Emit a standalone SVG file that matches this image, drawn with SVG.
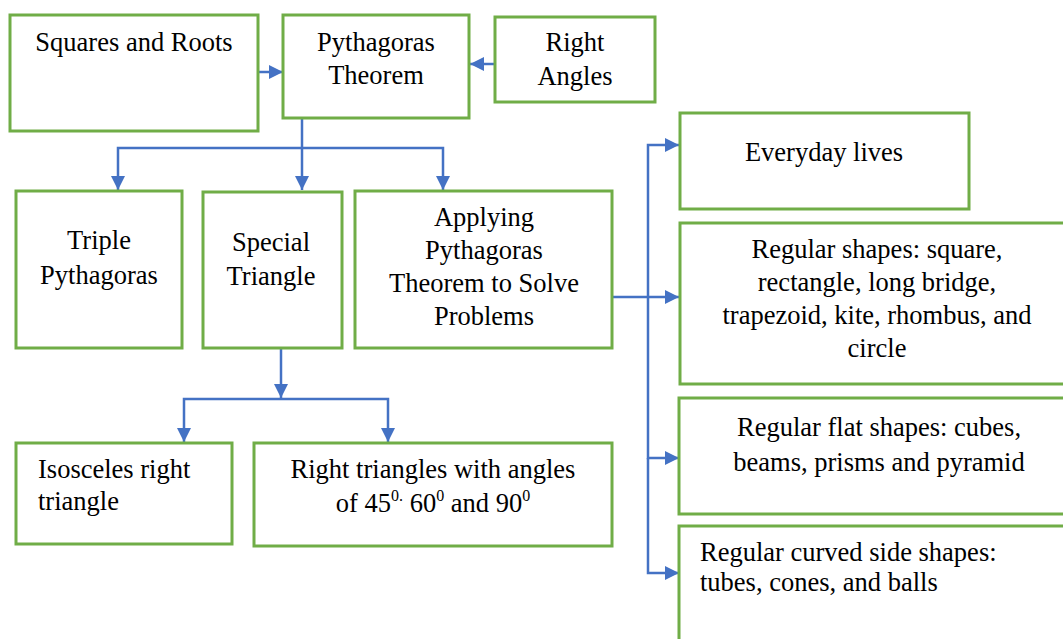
<svg xmlns="http://www.w3.org/2000/svg" width="1063" height="639" viewBox="0 0 1063 639">
<style>
.box{fill:#fff;stroke:#70AD47;stroke-width:3}
.t{font-family:"Liberation Serif","Times New Roman",serif;font-size:26.5px;fill:#000}
.c{text-anchor:middle}
.ln{fill:none;stroke:#4472C4;stroke-width:2.5}
.sup{font-size:16px}
</style>
<defs>
<marker id="ah" markerWidth="14" markerHeight="14" viewBox="0 0 14 14" refX="14" refY="7" orient="auto" markerUnits="userSpaceOnUse">
<path d="M0,0 L14,7 L0,14 Z" fill="#4472C4"/>
</marker>
</defs>
<rect width="1063" height="639" fill="#fff"/>
<g id="connectors">
<path class="ln" d="M258,72 H283" marker-end="url(#ah)"/>
<path class="ln" d="M495,64 H470" marker-end="url(#ah)"/>
<path class="ln" d="M302,118 V190" marker-end="url(#ah)"/>
<path class="ln" d="M302,148 H118 V190" marker-end="url(#ah)"/>
<path class="ln" d="M302,148 H443 V190" marker-end="url(#ah)"/>
<path class="ln" d="M281,348 V398" marker-end="url(#ah)"/>
<path class="ln" d="M281,399 H184 V442" marker-end="url(#ah)"/>
<path class="ln" d="M281,399 H388 V442" marker-end="url(#ah)"/>
<path class="ln" d="M612,297 H679" marker-end="url(#ah)"/>
<path class="ln" d="M648,297 V145 H679" marker-end="url(#ah)"/>
<path class="ln" d="M648,297 V458 H679" marker-end="url(#ah)"/>
<path class="ln" d="M648,458 V573 H679" marker-end="url(#ah)"/>
</g>
<g id="squares">
<rect class="box" x="10" y="15" width="248" height="116"/>
<text class="t c" x="134" y="51">Squares and Roots</text>
</g>
<g id="pythagoras">
<rect class="box" x="283" y="15" width="186" height="103"/>
<text class="t c" x="376" y="51">Pythagoras</text>
<text class="t c" x="376" y="84">Theorem</text>
</g>
<g id="right-angles">
<rect class="box" x="495" y="17" width="160" height="85"/>
<text class="t c" x="575" y="51">Right</text>
<text class="t c" x="575" y="85">Angles</text>
</g>
<g id="triple">
<rect class="box" x="16" y="191" width="166" height="157"/>
<text class="t c" x="99" y="249">Triple</text>
<text class="t c" x="99" y="284">Pythagoras</text>
</g>
<g id="special">
<rect class="box" x="203" y="192" width="139" height="156"/>
<text class="t c" x="271" y="251">Special</text>
<text class="t c" x="271" y="285">Triangle</text>
</g>
<g id="applying">
<rect class="box" x="355" y="191" width="257" height="157"/>
<text class="t c" x="484" y="226">Applying</text>
<text class="t c" x="484" y="259">Pythagoras</text>
<text class="t c" x="484" y="292">Theorem to Solve</text>
<text class="t c" x="484" y="325">Problems</text>
</g>
<g id="isosceles">
<rect class="box" x="16" y="443" width="216" height="101"/>
<text class="t" x="38" y="478">Isosceles right</text>
<text class="t" x="38" y="510">triangle</text>
</g>
<g id="right-triangles">
<rect class="box" x="254" y="443" width="358" height="103"/>
<text class="t c" x="433" y="478">Right triangles with angles</text>
<text class="t c" x="433" y="512">of 45<tspan class="sup" dy="-11">0.</tspan><tspan dy="11"> 60</tspan><tspan class="sup" dy="-11">0</tspan><tspan dy="11"> and 90</tspan><tspan class="sup" dy="-11">0</tspan></text>
</g>
<g id="everyday">
<rect class="box" x="680" y="113" width="289" height="96"/>
<text class="t c" x="824" y="161">Everyday lives</text>
</g>
<g id="regular-shapes">
<rect class="box" x="680" y="223" width="390" height="161"/>
<text class="t c" x="877" y="258">Regular shapes: square,</text>
<text class="t c" x="877" y="291">rectangle, long bridge,</text>
<text class="t c" x="877" y="324">trapezoid, kite, rhombus, and</text>
<text class="t c" x="877" y="357">circle</text>
</g>
<g id="flat-shapes">
<rect class="box" x="679" y="398" width="390" height="116"/>
<text class="t c" x="879" y="436">Regular flat shapes: cubes,</text>
<text class="t c" x="879" y="471">beams, prisms and pyramid</text>
</g>
<g id="curved-shapes">
<rect class="box" x="679" y="526" width="390" height="130"/>
<text class="t" x="700" y="561">Regular curved side shapes:</text>
<text class="t" x="700" y="591">tubes, cones, and balls</text>
</g>
</svg>
